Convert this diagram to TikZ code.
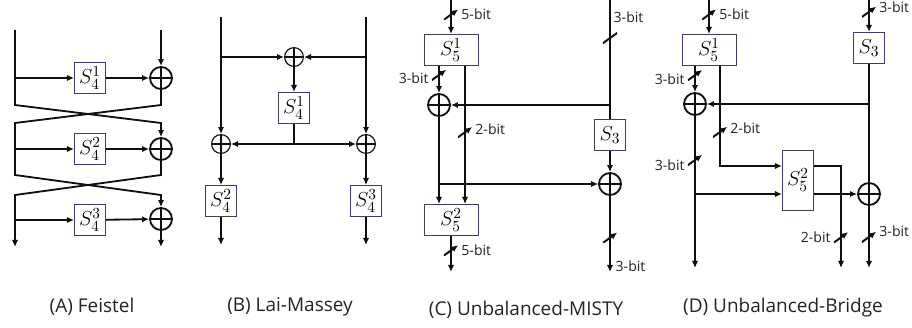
\documentclass[tikz,border=0pt]{standalone}
\usepackage{xcolor}
\usepackage{amsmath}
\usepackage{fontspec}
\setmainfont{Open Sans}
\usepackage{tikz}
\usetikzlibrary{arrows.meta, positioning, calc}
\definecolor{mydark}{RGB}{15,15,15}
\definecolor{myedge}{RGB}{60,62,105}
\definecolor{mytext}{RGB}{35,35,35}
\tikzset{
  sbox/.style={rectangle, draw=myedge, fill=white, line width=0.6pt,
    minimum width=0.78cm, minimum height=0.78cm, inner sep=0pt,
    font=\fontsize{15}{17}\selectfont},
  wbox/.style={sbox, minimum width=1.35cm},
  xor/.style={circle, draw=mydark, fill=white, line width=#1, minimum size=0.55cm, inner sep=0pt,
    path picture={\draw[line width=#1, mydark] (path picture bounding box.north) -- (path picture bounding box.south)
      (path picture bounding box.west) -- (path picture bounding box.east);}},
  xor/.default=1.3pt,
  cut/.style={inner sep=0pt, minimum width=0.36cm, minimum height=0.26cm,
    path picture={\draw[line width=1.4pt, mydark] (path picture bounding box.south west) -- (path picture bounding box.north east);}},
  bit/.style={font=\fontsize{10}{12}\selectfont, text=mytext, inner sep=1pt},
  caption/.style={font=\fontsize{13.5}{15}\selectfont, text=mytext},
  arrow/.style={-{Latex[length=5pt, width=4.5pt]}, line width=1.3pt, color=mydark},
  line/.style={draw, line width=1.3pt, color=mydark}
}
\begin{document}
\begin{tikzpicture}[x=0.025cm, y=-0.025cm]
  \useasboundingbox (0,0) rectangle (912,328);

  % (A) Feistel
  \coordinate (al) at (15,30);
  \coordinate (ar) at (161,30);
  \node[sbox] (fs1) at (90,78) {$S_4^1$};
  \node[sbox] (fs2) at (90,149) {$S_4^2$};
  \node[sbox] (fs3) at (90,220) {$S_4^3$};
  \node[xor] (fx1) at (161,78) {};
  \node[xor] (fx2) at (161,149) {};
  \node[xor] (fx3) at (161,219) {};
  \coordinate (alo) at (15,247);
  \coordinate (aro) at (161,247);

  \draw[arrow] (ar) -- (fx1);
  \draw[arrow] (al) -- (15,105) -- (161,123) -- (fx2);
  \draw[arrow] (fx1) -- (161,105) -- (15,123) -- (15,175) -- (161,195) -- (fx3);
  \draw[arrow] (fx2) -- (161,175) -- (15,195) -- (alo);
  \draw[arrow] (fx3) -- (aro);
  \draw[arrow] (al |- fs1) -- (fs1);
  \draw[arrow] (al |- fs2) -- (fs2);
  \draw[arrow] (al |- fs3) -- (fs3);
  \draw[arrow] (fs1) -- (fx1);
  \draw[arrow] (fs2) -- (fx2);
  \draw[arrow] (fs3) -- (fx3);

  % (B) Lai-Massey
  \coordinate (bl) at (221,17);
  \coordinate (br) at (366,17);
  \node[xor=0.8pt, minimum size=0.47cm] (lx1) at (294,57) {};
  \node[sbox] (ls1) at (294,108) {$S_4^1$};
  \node[xor=0.8pt, minimum size=0.47cm] (lx2) at (221,144) {};
  \node[xor=0.8pt, minimum size=0.47cm] (lx3) at (366,144) {};
  \node[sbox] (ls2) at (221,201) {$S_4^2$};
  \node[sbox] (ls3) at (366,201) {$S_4^3$};
  \coordinate (blo) at (221,245);
  \coordinate (bro) at (366,245);

  \draw[arrow] (bl) -- (lx2);
  \draw[arrow] (br) -- (lx3);
  \draw[arrow] (bl |- lx1) -- (lx1);
  \draw[arrow] (br |- lx1) -- (lx1);
  \draw[arrow] (lx1) -- (ls1);
  \draw[line] (ls1) -- (ls1 |- lx2) coordinate (bm);
  \draw[arrow] (bm) -- (lx2);
  \draw[arrow] (bm) -- (lx3);
  \draw[arrow] (lx2) -- (ls2);
  \draw[arrow] (lx3) -- (ls3);
  \draw[arrow] (ls2) -- (blo);
  \draw[arrow] (ls3) -- (bro);

  % (C) Unbalanced-MISTY
  \coordinate (cl) at (451,0);
  \coordinate (cr) at (610,0);
  \node[wbox] (ms1) at (451,50) {$S_5^1$};
  \node[xor] (mx1) at (439,105) {};
  \node[sbox] (ms3) at (610,135) {$S_3$};
  \node[xor] (mx2) at (610,184) {};
  \node[wbox] (ms2) at (451,220) {$S_5^2$};
  \coordinate (clo) at (451,272);
  \coordinate (cro) at (610,272);

  \draw[arrow] (cl) -- node[cut, pos=0.43, label={[bit]right:5-bit}] (mc1) {} (ms1);
  \draw[arrow] (mx1 |- ms1.south) -- node[cut, pos=0.33, label={[bit, yshift=-2pt]left:3-bit}] (mc2) {} (mx1);
  \draw[line] (cr) -- node[cut, pos=0.32] (mc3) {} (ms3);
  \node[bit, anchor=west] (ml3) at (612,17) {3-bit};
  \draw[arrow] (cr |- mx1) -- (mx1);
  \draw[arrow] (ms3) -- (mx2);
  \draw[arrow] (mx1) -- (mx1 |- ms2.north);
  \draw[arrow] (mx1 |- mx2) -- (mx2);
  \draw[arrow] ([xshift=0.35cm]ms1.south) -- node[cut, pos=0.48, label={[bit, yshift=2pt]right:2-bit}] (mc4) {} ([xshift=0.35cm]ms2.north);
  \draw[arrow] (ms2) -- node[cut, pos=0.4, label={[bit]right:5-bit}] (mc5) {} (clo);
  \draw[arrow] (mx2) -- node[cut, pos=0.55] (mc6) {} (cro);
  \node[bit, anchor=west] (ml6) at (614,266) {3-bit};

  % (D) Unbalanced-Bridge
  \coordinate (dl) at (709,0);
  \coordinate (dr) at (869,0);
  \node[wbox] (bs1) at (709,50) {$S_5^1$};
  \node[sbox] (bs3) at (869,48) {$S_3$};
  \node[xor] (bx1) at (695,104) {};
  \node[sbox, minimum height=1.5cm] (bs2) at (798,180) {$S_5^2$};
  \node[xor] (bx2) at (869,194) {};
  \coordinate (dlo) at (695,268);
  \coordinate (dmo) at (841,268);
  \coordinate (dro) at (869,268);

  \draw[arrow] (dl) -- node[cut, pos=0.43, label={[bit]right:5-bit}] (bc1) {} (bs1);
  \draw[arrow] (dr) -- node[cut, pos=0.37, label={[bit, yshift=3pt]right:3-bit}] (bc2) {} (bs3);
  \draw[arrow] (bx1 |- bs1.south) -- node[cut, pos=0.35, label={[bit, yshift=-3pt]left:3-bit}] (bc3) {} (bx1);
  \draw[line] (bs3) -- (bx2);
  \draw[arrow] (bs3 |- bx1) -- (bx1);
  \draw[arrow] ([xshift=0.275cm]bs1.south) |- node[cut, pos=0.33, label={[bit, yshift=3pt]right:2-bit}] (bc4) {} ([yshift=0.35cm]bs2.west);
  \draw[arrow] (bx1) -- node[cut, pos=0.29, label={[bit, yshift=-4pt]left:3-bit}] (bc5) {} (dlo);
  \draw[arrow] (bx1 |- bx2) -- ([yshift=-0.35cm]bs2.west);
  \draw[arrow] ([yshift=0.35cm]bs2.east) -| node[cut, pos=0.85, label={[bit]left:2-bit}] (bc6) {} (dmo);
  \draw[arrow] ([yshift=-0.35cm]bs2.east) -- (bx2);
  \draw[arrow] (bx2) -- node[cut, pos=0.5, label={[bit, yshift=4pt]right:3-bit}] (bc7) {} (dro);

  % captions
  \node[caption] (capa) at (92,307) {(A) Feistel};
  \node[caption] (capb) at (290,307) {(B) Lai-Massey};
  \node[caption] (capc) at (526,310) {(C) Unbalanced-MISTY};
  \node[caption] (capd) at (783,308) {(D) Unbalanced-Bridge};
\end{tikzpicture}
\end{document}
